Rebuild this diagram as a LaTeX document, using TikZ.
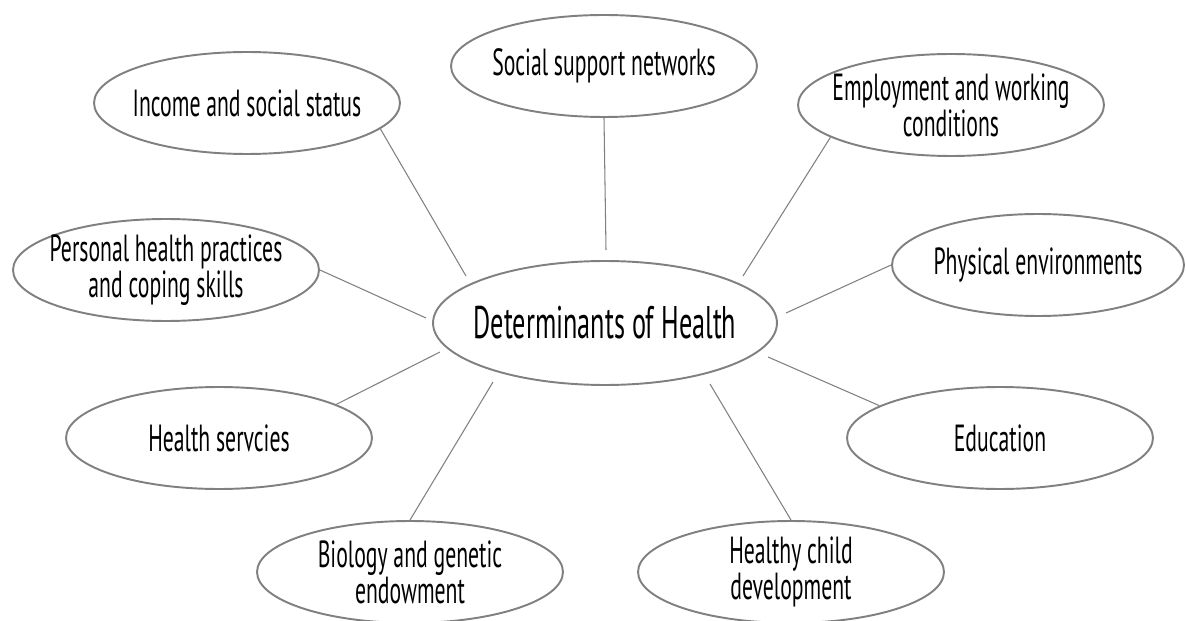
\documentclass[tikz,border=0pt]{standalone}
\usepackage{fontspec}
\setmainfont{PT Sans}[FakeStretch=0.575]
\usetikzlibrary{shapes.geometric}

\newcommand{\blobfont}{\fontsize{21.5}{20.5}\selectfont\lineskiplimit=-20pt\relax}

\begin{document}
\begin{tikzpicture}[x=0.02cm, y=-0.02cm,
    blob/.style={ellipse, draw=gray, line width=1.1pt, minimum width=6.12cm, minimum height=2.04cm, inner xsep=-1.5cm, inner ysep=-0.6cm, align=center, font=\blobfont},
    link/.style={draw=gray, line width=0.6pt}]

    \useasboundingbox (0,0) rectangle (1186,621);

    \node [blob, minimum width=6.88cm, minimum height=2.48cm, font=\fontsize{26}{22}\selectfont] (hub) at (605,323) {Determinants of Health};

    \node [blob] (soc) at (604,66) {Social support networks};
    \node [blob] (inc) at (247,103) {Income and social status};
    \node [blob] (emp) at (951,105) {Employment and working\\conditions};
    \node [blob] (pers) at (166,270) {Personal health practices\\and coping skills};
    \node [blob, minimum width=5.84cm] (phys) at (1038,265) {Physical environments};
    \node [blob] (serv) at (219,438) {Health servcies};
    \node [blob] (edu) at (1000,438) {Education};
    \node [blob] (bio) at (410,572) {Biology and genetic\\endowment};
    \node [blob] (child) at (791,572) {Healthy child\\development};

    \coordinate (h1) at (606,250);
    \coordinate (h2) at (466,276);
    \coordinate (h3) at (743,276);
    \coordinate (h4) at (426,318);
    \coordinate (h5) at (786,313);
    \coordinate (h6) at (440,352);
    \coordinate (h7) at (768,357);
    \coordinate (h8) at (493,382);
    \coordinate (h9) at (710,384);

    \draw [link] (soc.south) -- (h1);
    \draw [link] (inc.-11) -- (h2);
    \draw [link] (emp.-165) -- (h3);
    \draw [link] (pers.east) -- (h4);
    \draw [link] (phys.west) -- (h5);
    \draw [link] (serv.16) -- (h6);
    \draw [link] (edu.165) -- (h7);
    \draw [link] (bio.north) -- (h8);
    \draw [link] (child.north) -- (h9);

\end{tikzpicture}
\end{document}
